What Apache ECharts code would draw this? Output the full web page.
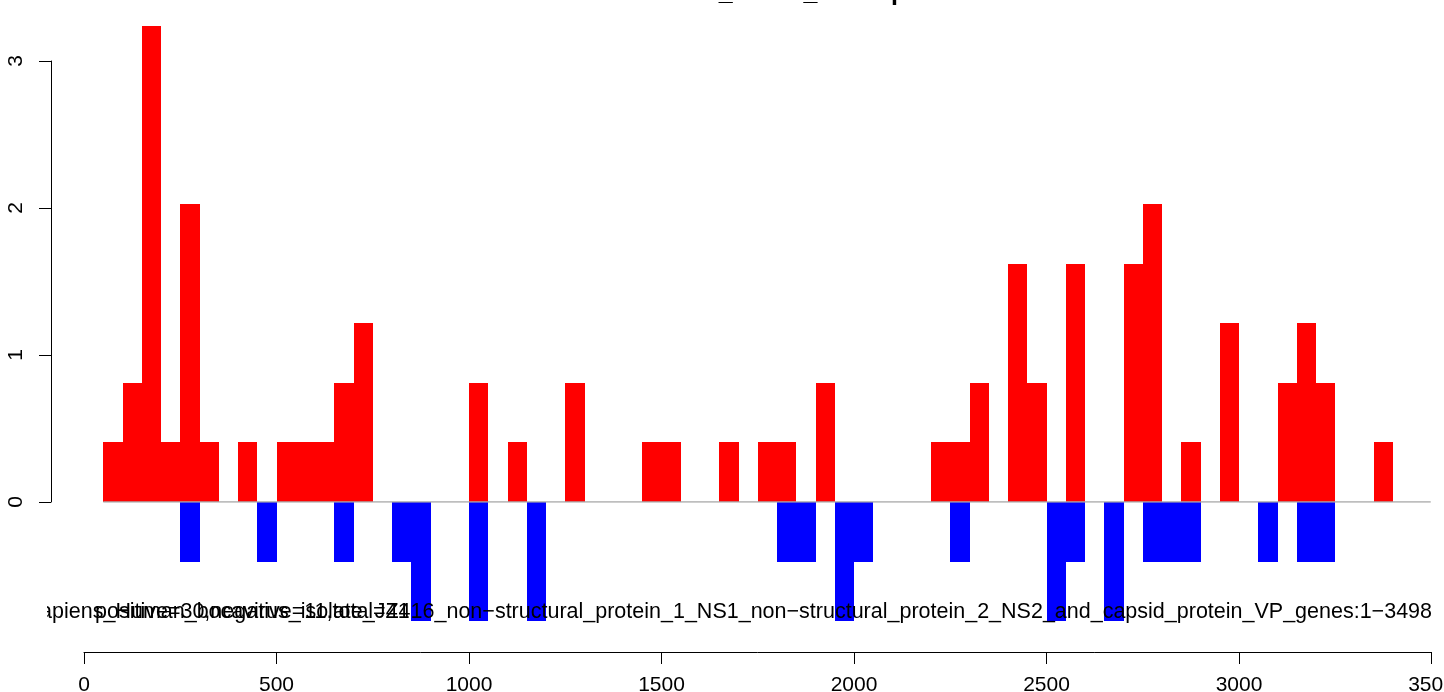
<!DOCTYPE html>
<html><head><meta charset="utf-8">
<script src="https://cdn.jsdelivr.net/npm/echarts@6/dist/echarts.min.js"></script>
<style>html,body{margin:0;padding:0;background:#fff}#c{width:1444px;height:692px}</style>
</head><body><div id="c"></div>
<script>
// ---- data ----
const binWidth = 50;
const posBinStart = [50,100,150,200,250,300,400,500,550,600,650,700,1000,1100,1250,1450,1500,1650,1750,1800,1900,2200,2250,2300,2400,2450,2550,2700,2750,2850,2950,3100,3150,3200,3350];
const posValues   = [0.41,0.81,3.24,0.41,2.03,0.41,0.41,0.41,0.41,0.41,0.81,1.22,0.81,0.41,0.81,0.41,0.41,0.41,0.41,0.41,0.81,0.41,0.41,0.81,1.62,0.81,1.62,1.62,2.03,0.41,1.22,0.81,1.22,0.81,0.41];
const negBinStart = [250,450,650,800,850,1000,1150,1800,1850,1950,2000,2250,2500,2550,2650,2750,2800,2850,3050,3150,3200];
const negValues   = [-0.41,-0.41,-0.41,-0.41,-0.81,-0.81,-0.81,-0.41,-0.41,-0.81,-0.41,-0.41,-0.81,-0.41,-0.81,-0.41,-0.41,-0.41,-0.41,-0.41,-0.41];
const baselineRange = [50, 3498];
const xTickMin = 0, xTickMax = 3500, xTickStep = 500;
const yTickMin = 0, yTickMax = 3, yTickStep = 1;
const titleText = "Bocavirus_JZ416_overlap";
const seqName = "Homo_sapiens_Human_bocavirus_isolate_JZ416_non\u2212structural_protein_1_NS1_non\u2212structural_protein_2_NS2_and_capsid_protein_VP_genes:1\u22123498";
const countText = "positive=30,negative=11,total=41";

// ---- chart ----
const FONT = '"Liberation Sans", Arial, Helvetica, sans-serif';
const chart = echarts.init(document.getElementById('c'), null, {renderer:'canvas'});

function rectRenderer(color){
  return function(params, api){
    const x0 = api.value(0), v = api.value(1);
    const a = api.coord([x0, 0]);
    const b = api.coord([x0 + binWidth, v]);
    const l = Math.round(a[0]), r = Math.round(b[0]);
    const t = Math.round(Math.min(a[1], b[1])), bt = Math.round(Math.max(a[1], b[1]));
    return {type:'rect', shape:{x:l, y:t, width:r-l, height:bt-t}, style:{fill:color}};
  };
}

const posData = posBinStart.map((s,i)=>[s, posValues[i]]);
const negData = negBinStart.map((s,i)=>[s, negValues[i]]);

chart.setOption({
  animation:false,
  backgroundColor:'#fff',
  grid:{left:84, right:12.5, top:61, bottom:190, containLabel:false, outerBoundsMode:'none'},
  xAxis:{type:'value', min:xTickMin, max:xTickMax, interval:xTickStep, position:'bottom', offset:150,
    axisLine:{show:true, onZero:false, lineStyle:{color:'#000', width:1}},
    axisTick:{show:true, length:12, lineStyle:{color:'#000', width:1}},
    axisLabel:{show:true, color:'#000', fontSize:21, fontFamily:FONT, margin:23, showMaxLabel:true, showMinLabel:true,
      formatter:(v)=>String(v), hideOverlap:false},
    splitLine:{show:false}},
  yAxis:{type:'value', min:yTickMin, max:yTickMax, interval:yTickStep, position:'left', offset:33,
    axisLine:{show:true, onZero:false, lineStyle:{color:'#000', width:1}},
    axisTick:{show:true, length:12, lineStyle:{color:'#000', width:1}},
    axisLabel:{show:true, color:'#000', fontSize:21, fontFamily:FONT, rotate:90, margin:24, formatter:(v)=>String(v)},
    splitLine:{show:false}},
  series:[
    {type:'custom', name:'positive', clip:false, renderItem:rectRenderer('#FF0000'), data:posData, encode:{x:0,y:1}, z:2},
    {type:'custom', name:'negative', clip:false, renderItem:rectRenderer('#0000FF'), data:negData, encode:{x:0,y:1}, z:2},
    {type:'line', name:'zero', data:[[baselineRange[0],0],[baselineRange[1],0]], symbol:'none', silent:true,
      lineStyle:{color:'#A9A9A9', width:1.5}, z:3}
  ],
  graphic:[
    {type:'text', x:752, y:-7, z:100, silent:true,
      style:{text:titleText, font:'bold 25px '+FONT, fill:'#000', textAlign:'center', textVerticalAlign:'middle'}},
    {type:'text', x:1432, y:612, z:100, silent:true,
      style:{text:seqName, font:'21.5px '+FONT, fill:'#000', textAlign:'right', textVerticalAlign:'middle'}},
    {type:'text', x:95, y:612, z:100, silent:true,
      style:{text:countText, font:'21.5px '+FONT, fill:'#000', textAlign:'left', textVerticalAlign:'middle'}},
    {type:'rect', z:101, silent:true, shape:{x:0, y:596, width:47, height:32}, style:{fill:'#fff'}}
  ]
});
</script></body></html>
